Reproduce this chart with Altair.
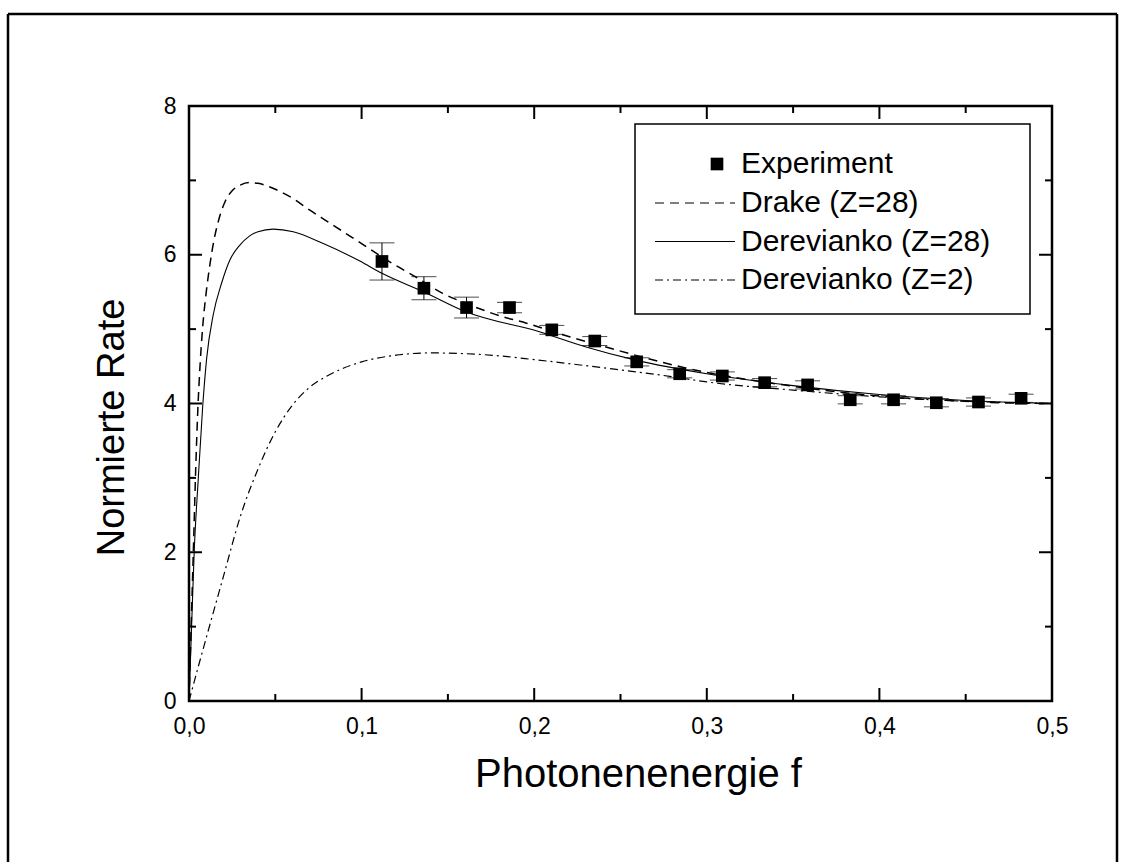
import altair as alt
import pandas as pd

# ---------------- data ----------------
exp_x = [0.1118, 0.1361, 0.1608, 0.1857, 0.2102, 0.2351, 0.2594, 0.2843,
         0.3090, 0.3335, 0.3584, 0.3831, 0.4082, 0.4330, 0.4574, 0.4821]
exp_y = [5.91, 5.55, 5.29, 5.29, 4.99, 4.84, 4.56, 4.40,
         4.37, 4.28, 4.25, 4.05, 4.05, 4.01, 4.02, 4.07]
exp_err = [0.25, 0.155, 0.14, 0.07, 0.06, 0.06, 0.055, 0.055,
           0.055, 0.055, 0.055, 0.055, 0.055, 0.055, 0.055, 0.055]

drake_x = [0, 0.001, 0.0025, 0.004, 0.005, 0.0065, 0.008, 0.010, 0.012, 0.0145,
           0.017, 0.021, 0.025, 0.030, 0.035, 0.040, 0.050, 0.060, 0.070, 0.080,
           0.090, 0.100, 0.118, 0.130, 0.147, 0.160, 0.180, 0.1955, 0.220, 0.240,
           0.260, 0.280, 0.3016, 0.330, 0.360, 0.400, 0.440, 0.470, 0.500]
drake_y = [0, 0.8, 2.0, 3.2, 3.85, 4.55, 5.05, 5.5, 5.85, 6.2,
           6.45, 6.72, 6.86, 6.94, 6.97, 6.96, 6.88, 6.76, 6.60, 6.45,
           6.30, 6.15, 5.88, 5.72, 5.48, 5.35, 5.18, 5.08, 4.90, 4.77,
           4.64, 4.52, 4.41, 4.30, 4.20, 4.10, 4.04, 4.01, 4.00]

der28_x = [0, 0.0015, 0.003, 0.0054, 0.0079, 0.0102, 0.0141, 0.0189, 0.0237,
           0.0295, 0.035, 0.040, 0.0488, 0.0604, 0.0778, 0.0990, 0.1118, 0.1361, 0.1608,
           0.2030, 0.2300, 0.2594, 0.3000, 0.3500, 0.4000, 0.4500, 0.5000]
der28_y = [0, 1.0, 2.0, 3.0, 3.95, 4.6, 5.2, 5.62, 5.93,
           6.13, 6.25, 6.31, 6.345, 6.31, 6.15, 5.915, 5.75, 5.50, 5.23,
           4.965, 4.76, 4.58, 4.40, 4.24, 4.12, 4.04, 4.00]

der2_x = [0, 0.005, 0.010, 0.020, 0.030, 0.040, 0.050, 0.060, 0.070, 0.080,
          0.090, 0.100, 0.120, 0.140, 0.160, 0.180, 0.200, 0.240, 0.280, 0.300,
          0.350, 0.400, 0.450, 0.500]
der2_y = [0, 0.43, 0.85, 1.68, 2.50, 3.12, 3.62, 3.98, 4.22, 4.37,
          4.48, 4.56, 4.65, 4.68, 4.67, 4.64, 4.59, 4.48, 4.36, 4.29,
          4.18, 4.09, 4.03, 4.00]

x_major = [0.0, 0.1, 0.2, 0.3, 0.4, 0.5]
x_minor = [0.05, 0.15, 0.25, 0.35, 0.45]
y_major = [0, 2, 4, 6, 8]
y_minor = [1, 3, 5, 7]

legend_labels = ["Experiment", "Drake (Z=28)", "Derevianko (Z=28)", "Derevianko (Z=2)"]

# ---------------- layout ----------------
W, H = 863, 595
PL, PT = 189, 106
FONT = "Liberation Sans"

exp_df = pd.DataFrame({"x": exp_x, "y": exp_y,
                       "lo": [a - b for a, b in zip(exp_y, exp_err)],
                       "hi": [a + b for a, b in zip(exp_y, exp_err)]})
drake_df = pd.DataFrame({"x": drake_x, "y": drake_y})
der28_df = pd.DataFrame({"x": der28_x, "y": der28_y})
der2_df = pd.DataFrame({"x": der2_x, "y": der2_y})

xs = alt.Scale(domain=[0, 0.5], nice=False, zero=False)
ys = alt.Scale(domain=[0, 8], nice=False, zero=False)

x_axis = alt.Axis(values=x_major, ticks=False, domain=False, grid=False,
                  labelExpr="replace(format(datum.value, '.1f'), '.', ',')",
                  labelFont=FONT, labelFontSize=23, labelColor="black",
                  labelPadding=14, labelFlush=False, title="Photonenenergie f",
                  titleFont=FONT, titleFontSize=40, titleFontWeight="normal",
                  titleColor="black", titleBaseline="alphabetic",
                  titleY=85, titleX=449)
y_axis = alt.Axis(values=y_major, ticks=False, domain=False, grid=False,
                  format="d", labelFont=FONT, labelFontSize=23,
                  labelColor="black", labelPadding=13, labelFlush=False,
                  title="Normierte Rate", titleFont=FONT, titleFontSize=38,
                  titleFontWeight="normal", titleColor="black",
                  titleBaseline="alphabetic", titleAngle=-90,
                  titleX=-66, titleY=321)

X = alt.X("x:Q", scale=xs, axis=x_axis)
Y = alt.Y("y:Q", scale=ys, axis=y_axis)
Ylo = alt.Y("lo:Q", scale=ys, axis=y_axis)
Yhi = alt.Y("hi:Q", scale=ys, axis=y_axis)

drake = alt.Chart(drake_df).mark_line(
    stroke="black", strokeWidth=1.5, strokeDash=[9, 6], interpolate="monotone"
).encode(x=X, y=Y)

der28 = alt.Chart(der28_df).mark_line(
    stroke="black", strokeWidth=1.1, interpolate="monotone"
).encode(x=X, y=Y)

der2 = alt.Chart(der2_df).mark_line(
    stroke="black", strokeWidth=1.2, strokeDash=[8, 4, 2, 4], interpolate="monotone"
).encode(x=X, y=Y)

err_rule = alt.Chart(exp_df).mark_rule(color="black", strokeWidth=1).encode(
    x=X, y=Ylo, y2="hi:Q")
cap_lo = alt.Chart(exp_df).mark_tick(color="black", thickness=1, size=25, orient="horizontal").encode(
    x=X, y=Ylo)
cap_hi = alt.Chart(exp_df).mark_tick(color="black", thickness=1, size=25, orient="horizontal").encode(
    x=X, y=Yhi)
points = alt.Chart(exp_df).mark_point(
    shape="square", filled=True, size=160, color="black", opacity=1
).encode(x=X, y=Y)

# ticks (inward, mirrored on all four sides)
xmaj_df = pd.DataFrame({"x": x_major})
xmin_df = pd.DataFrame({"x": x_minor})
ymaj_df = pd.DataFrame({"y": y_major})
ymin_df = pd.DataFrame({"y": y_minor})

def xticks(df, length):
    b = alt.Chart(df).mark_rule(color="black", strokeWidth=2).encode(
        x=X, y=alt.value(H), y2=alt.value(H - length))
    t = alt.Chart(df).mark_rule(color="black", strokeWidth=2).encode(
        x=X, y=alt.value(0), y2=alt.value(length))
    return b + t

def yticks(df, length):
    l = alt.Chart(df).mark_rule(color="black", strokeWidth=2).encode(
        y=Y, x=alt.value(0), x2=alt.value(length))
    r = alt.Chart(df).mark_rule(color="black", strokeWidth=2).encode(
        y=Y, x=alt.value(W), x2=alt.value(W - length))
    return l + r

ticks = xticks(xmaj_df, 13) + xticks(xmin_df, 7) + yticks(ymaj_df, 13) + yticks(ymin_df, 7)

# outer frame of the figure
one = pd.DataFrame({"k": [0]})
frame_left = alt.Chart(one).mark_rule(color="black", strokeWidth=2.5, clip=False).encode(
    x=alt.value(8 - PL), y=alt.value(14 - PT), y2=alt.value(900 - PT))
frame_top = alt.Chart(one).mark_rule(color="black", strokeWidth=2.5, clip=False).encode(
    x=alt.value(8 - PL), x2=alt.value(1117 - PL), y=alt.value(14 - PT))
frame_right = alt.Chart(one).mark_rule(color="black", strokeWidth=2.5, clip=False).encode(
    x=alt.value(1117 - PL), y=alt.value(14 - PT), y2=alt.value(900 - PT))

# legend (manual)
LX0, LX1 = 635 - PL, 1030 - PL
LY0, LY1 = 124 - PT, 314 - PT
rows = [164 - PT, 203 - PT, 241.5 - PT, 280 - PT]
SX0, SX1, TX = 655 - PL, 735 - PL, 741 - PL

leg_box = alt.Chart(one).mark_rect(fill="white", stroke="black", strokeWidth=1.5).encode(
    x=alt.value(LX0), x2=alt.value(LX1), y=alt.value(LY0), y2=alt.value(LY1))
leg_sq = alt.Chart(one).mark_point(shape="square", filled=True, size=160, color="black", opacity=1).encode(
    x=alt.value(717 - PL), y=alt.value(rows[0]))
leg_l1 = alt.Chart(one).mark_rule(color="black", strokeWidth=1.2, strokeDash=[9, 6]).encode(
    x=alt.value(SX0), x2=alt.value(SX1), y=alt.value(rows[1]))
leg_l2 = alt.Chart(one).mark_rule(color="black", strokeWidth=1.1).encode(
    x=alt.value(SX0), x2=alt.value(SX1), y=alt.value(rows[2]))
leg_l3 = alt.Chart(one).mark_rule(color="black", strokeWidth=1.1, strokeDash=[8, 4, 2, 4]).encode(
    x=alt.value(SX0), x2=alt.value(SX1), y=alt.value(rows[3]))
leg_text = None
for lab, ry in zip(legend_labels, rows):
    t = alt.Chart(pd.DataFrame({"t": [lab]})).mark_text(
        align="left", baseline="middle", font=FONT, fontSize=30, color="black"
    ).encode(x=alt.value(TX), y=alt.value(ry), text="t:N")
    leg_text = t if leg_text is None else leg_text + t

chart = alt.layer(
    drake, der28, der2, err_rule, cap_lo, cap_hi, points, ticks,
    leg_box, leg_sq, leg_l1, leg_l2, leg_l3, leg_text,
    frame_left, frame_top, frame_right
).properties(
    width=W, height=H,
    autosize=alt.AutoSizeParams(type="none"),
    padding={"left": PL, "top": PT, "right": 1134 - PL - W, "bottom": 862 - PT - H},
    background="white"
).configure_view(stroke="black", strokeWidth=2.5)

chart.save("out.html", embed_options={"renderer": "svg", "actions": False})
